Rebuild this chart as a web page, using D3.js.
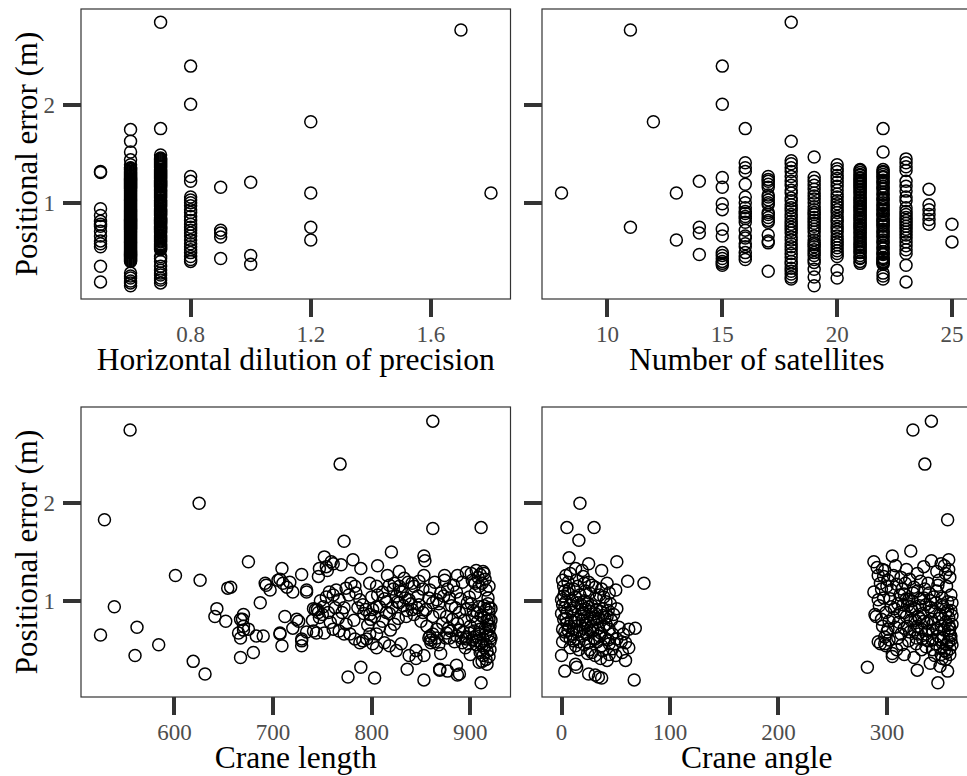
<!DOCTYPE html>
<html>
<head>
<meta charset="utf-8">
<script src="https://cdn.jsdelivr.net/npm/d3@7"></script>
<style>
	body { margin: 0; background: #fff; }
	#chart { position: relative; width: 967px; height: 776px; overflow: hidden; }
	#chart svg { position: absolute; left: 0; top: 0; }
	.tick { position: absolute; background: #333; }
	text { font-family: "Liberation Serif", "Times New Roman", serif; }
</style>
</head>
<body>
<div id="chart"></div>
<script>
// horizontal dilution of precision (discrete levels) vs positional error
var hdopLevels = [0.5, 0.6, 0.7, 0.8, 0.9, 1.0, 1.2, 1.7, 1.8],
	hdopErr = [
		[1.32, 1.31, 0.94, 0.87, 0.81, 0.78, 0.76, 0.71, 0.66, 0.61, 0.58, 0.55, 0.35, 0.19],
		[1.75, 1.63, 1.52, 1.44, 1.39, 1.36, 1.34, 1.32, 1.31, 1.29, 1.27, 1.26, 1.24, 1.22, 1.21, 1.19, 1.17, 1.16, 1.14, 1.12,
		 1.11, 1.09, 1.07, 1.06, 1.04, 1.02, 1.01, 0.99, 0.97, 0.96, 0.94, 0.92, 0.91, 0.89, 0.87, 0.86, 0.84, 0.82, 0.81, 0.79,
		 0.77, 0.76, 0.74, 0.72, 0.71, 0.69, 0.67, 0.66, 0.64, 0.62, 0.61, 0.59, 0.57, 0.56, 0.54, 0.52, 0.51, 0.49, 0.47, 0.45,
		 0.43, 0.42, 0.40, 0.28, 0.25, 0.23, 0.20, 0.18, 0.15,
		 1.355, 1.335, 1.30, 1.28, 1.25, 1.23, 1.20, 1.18, 1.15, 1.13, 1.10, 1.08, 1.05, 1.03, 1.00, 0.98, 0.95, 0.93, 0.90, 0.88,
		 0.85, 0.83, 0.80, 0.78, 0.75, 0.73, 0.70, 0.68, 0.65, 0.63, 0.60, 0.58, 0.55, 0.53, 0.50, 0.48, 0.46, 0.44, 0.41],
		[2.85, 1.76, 1.49, 1.46, 1.44, 1.42, 1.40, 1.38, 1.36, 1.33, 1.31, 1.29, 1.27, 1.25, 1.22, 1.20, 1.18, 1.16, 1.13, 1.11,
		 1.09, 1.07, 1.05, 1.02, 1.00, 0.98, 0.96, 0.93, 0.91, 0.89, 0.87, 0.84, 0.82, 0.80, 0.78, 0.75, 0.73, 0.71, 0.69, 0.66,
		 0.64, 0.62, 0.60, 0.57, 0.55, 0.53, 0.45, 0.40, 0.35, 0.28, 0.23, 0.18,
		 1.45, 1.43, 1.41, 1.39, 1.37, 1.34, 1.32, 1.30, 1.28, 1.26, 1.23, 1.21, 1.19, 1.17, 1.14, 1.12, 1.10, 1.08, 1.06, 1.03,
		 1.01, 0.99, 0.97, 0.94, 0.92, 0.90, 0.88, 0.85, 0.83, 0.81, 0.79, 0.76, 0.74, 0.72, 0.70, 0.67, 0.65, 0.63, 0.61, 0.58,
		 0.56, 0.54, 0.52, 0.43, 0.31, 0.26, 0.21],
		[2.40, 2.01, 1.27, 1.22, 1.06, 1.03, 1.00, 0.97, 0.93, 0.90, 0.86, 0.82, 0.78, 0.75, 0.72, 0.69, 0.66, 0.62, 0.58, 0.55,
		 0.52, 0.49, 0.45, 0.42, 0.40],
		[1.16, 0.72, 0.69, 0.65, 0.43],
		[1.21, 0.46, 0.37],
		[1.83, 1.10, 0.75, 0.62],
		[2.77],
		[1.10]
	];

// number of satellites vs positional error
var satLevels = [8, 11, 12, 13, 14, 15, 16, 17, 18, 19, 20, 21, 22, 23, 24, 25],
	satErr = [
		[1.10],
		[2.77, 0.75],
		[1.83],
		[1.10, 0.62],
		[1.22, 0.75, 0.69, 0.47],
		[2.40, 2.01, 1.26, 1.16, 0.99, 0.93, 0.73, 0.66, 0.49, 0.46, 0.43, 0.40, 0.38, 0.36],
		[1.76, 1.41, 1.36, 1.32, 1.19, 1.06, 1.00, 0.95, 0.91, 0.89, 0.86, 0.84, 0.80, 0.72, 0.66, 0.64, 0.58, 0.55, 0.49, 0.45, 0.42],
		[1.27, 1.24, 1.22, 1.19, 1.16, 1.08, 1.06, 1.03, 1.00, 0.98, 0.90, 0.88, 0.85, 0.82, 0.80, 0.67, 0.61, 0.59, 0.30],
		[2.85, 1.63, 1.43, 1.40, 1.36, 1.32, 1.27, 1.22, 1.18, 1.13, 1.10, 1.05, 1.02, 0.98, 0.95, 0.92, 0.88, 0.85, 0.81, 0.78,
		 0.75, 0.72, 0.69, 0.65, 0.62, 0.58, 0.55, 0.52, 0.48, 0.44, 0.40, 0.37, 0.33, 0.30, 0.27, 0.24, 0.22],
		[1.47, 1.26, 1.22, 1.18, 1.14, 1.10, 1.07, 1.04, 1.00, 0.96, 0.93, 0.90, 0.88, 0.85, 0.82, 0.79, 0.76, 0.73, 0.70, 0.66,
		 0.62, 0.59, 0.57, 0.55, 0.52, 0.49, 0.46, 0.42, 0.39, 0.32, 0.24, 0.15],
		[1.39, 1.35, 1.32, 1.28, 1.25, 1.21, 1.17, 1.13, 1.09, 1.06, 1.02, 0.99, 0.96, 0.93, 0.90, 0.86, 0.83, 0.80, 0.76, 0.73,
		 0.70, 0.66, 0.63, 0.60, 0.57, 0.54, 0.51, 0.48, 0.45, 0.31, 0.23],
		[1.34, 1.31, 1.28, 1.25, 1.22, 1.19, 1.16, 1.13, 1.10, 1.08, 1.05, 1.02, 1.00, 0.97, 0.95, 0.92, 0.90, 0.87, 0.85, 0.82,
		 0.80, 0.77, 0.75, 0.72, 0.70, 0.67, 0.65, 0.62, 0.60, 0.57, 0.55, 0.52, 0.49, 0.46, 0.43, 0.40, 0.38,
		 1.33, 1.29, 1.26, 1.23, 1.20, 1.17, 1.14, 1.11, 1.06, 1.03, 0.99, 0.96, 0.93, 0.88, 0.84, 0.78, 0.74, 0.69, 0.64, 0.58,
		 0.54, 0.50, 0.44],
		[1.76, 1.52, 1.34, 1.31, 1.29, 1.26, 1.23, 1.20, 1.17, 1.14, 1.11, 1.08, 1.05, 1.03, 1.00, 0.97, 0.95, 0.92, 0.89, 0.87,
		 0.84, 0.81, 0.79, 0.76, 0.73, 0.70, 0.68, 0.65, 0.62, 0.59, 0.56, 0.53, 0.50, 0.47, 0.44, 0.42, 0.40, 0.38, 0.28, 0.25, 0.22,
		 1.32, 1.27, 1.21, 1.15, 1.09, 1.04, 0.98, 0.93, 0.88, 0.82, 0.77, 0.71, 0.66, 0.60, 0.54, 0.48, 0.43, 0.39, 0.37],
		[1.45, 1.41, 1.37, 1.33, 1.22, 1.17, 1.12, 1.06, 1.02, 0.95, 0.91, 0.88, 0.85, 0.82, 0.79, 0.76, 0.73, 0.70, 0.67, 0.64,
		 0.60, 0.56, 0.52, 0.48, 0.36, 0.19],
		[1.14, 0.98, 0.93, 0.88, 0.83, 0.78],
		[0.78, 0.60]
	];

// crane length vs positional error
var lengthPts = [
	[525,0.65],[529,1.83],[539,0.94],[555,2.75],[560,0.44],[562,0.73],[584,0.55],[601,1.26],[619,0.38],[625,2.00],[626,1.21],[631,0.25],
	[641,0.84],[643,0.92],[652,0.79],[654,1.13],[657,1.14],[665,0.67],[667,0.62],[667,0.42],[667,0.81],[669,0.81],[670,0.86],[670,0.70],
	[670,0.74],[675,0.71],[675,1.40],[680,0.47],[683,0.64],[687,0.98],[690,0.64],[692,1.18],[693,1.16],[697,1.11],[705,1.21],[707,0.67],
	[707,1.22],[707,0.66],[709,0.54],[709,1.33],[710,1.18],[712,0.84],[714,1.14],[717,1.19],[720,1.09],[720,0.72],[724,0.81],[726,0.79],
	[729,1.27],[729,0.59],[729,0.54],[729,0.61],[734,1.09],[734,0.68],[734,1.11],[740,0.80],[741,0.92],[741,0.69],[743,0.91],[744,0.67],
	[745,0.91],[746,1.25],[746,0.88],[747,0.83],[747,1.33],[751,0.94],[752,1.45],[752,0.67],[754,1.35],[754,1.04],[755,1.31],[757,1.09],
	[759,1.40],[761,1.38],[761,1.06],[761,0.71],[764,1.11],[767,1.01],[767,0.69],[768,2.40],[769,1.37],[772,1.61],[772,0.93],[772,0.66],
	[774,1.13],[776,0.22],[778,0.66],[779,1.18],[781,1.42],[783,1.15],[783,0.61],[784,1.08],[788,1.01],[789,1.33],[788,0.57],[789,0.32],
	[791,0.96],[791,0.59],[794,0.91],[795,0.61],[798,0.86],[798,0.66],[799,0.81],[801,0.56],[803,0.84],[803,0.21],[805,0.94],[805,0.52],
	[806,1.36],[806,1.06],[820,1.50],[828,1.30],[836,0.30],[845,0.41],[853,0.19],[853,1.46],[862,2.84],[862,1.74],[869,0.30],[877,0.28],
	[887,0.24],[911,1.75],[911,0.16],
	[816,1.26],[798,1.18],[805,1.15],[811,1.09],[818,1.16],[823,1.18],[828,1.15],[831,1.09],[838,1.01],[841,1.18],[848,1.20],[853,1.26],
	[859,1.11],[862,0.98],[870,1.08],[874,1.26],[874,1.21],[879,1.03],[887,1.26],[892,1.19],[896,1.29],[901,1.28],[902,1.21],[906,1.31],
	[909,1.15],[914,1.28],[916,1.11],[899,1.04],[886,1.09],[866,1.01],[854,1.41],
	[801,0.91],[808,0.94],[815,0.88],[821,0.93],[828,0.98],[835,0.84],[841,0.91],[848,0.96],[855,0.91],[862,0.84],[869,0.88],[876,0.84],
	[882,0.81],[889,0.88],[896,0.91],[902,0.84],[909,0.94],[916,0.91],[919,0.81],[919,0.93],
	[805,0.66],[813,0.57],[818,0.54],[825,0.49],[830,0.56],[838,0.44],[845,0.49],[853,0.44],[859,0.64],[860,0.57],[866,0.62],[870,0.46],
	[876,0.67],[879,0.62],[886,0.64],[892,0.57],[896,0.61],[899,0.67],[906,0.64],[911,0.57],[914,0.52],[916,0.40],[917,0.35],[909,0.37],
	[869,0.29],[886,0.34],[889,0.25],[919,0.71],
	[822,1.12],[825,1.05],[826,0.99],[829,1.10],[832,0.95],[834,1.03],[836,0.90],[840,0.97],[843,0.86],[846,0.93],[850,0.79],[852,0.88],
	[856,0.74],[858,0.62],[860,0.60],[862,0.66],[864,0.58],[866,0.71],[868,0.55],[872,0.77],[875,0.62],[878,0.72],[881,0.95],[884,0.58],
	[887,0.77],[890,1.02],[893,0.68],[895,0.52],[897,0.98],[900,0.74],[902,0.60],[903,0.90],[905,1.08],[906,0.55],[907,0.78],[908,1.24],
	[909,0.66],[910,0.47],[911,0.85],[912,1.18],[912,0.38],[913,0.61],[914,0.95],[915,0.72],[916,0.55],[917,0.80],[918,0.65],[919,0.43],
	[919,0.88],[920,0.74],[920,0.58],[921,0.92],[918,1.03],[913,1.30],[910,1.27],[904,0.69],[896,0.63],[889,0.70],[883,1.16],[877,1.12],
	[873,1.05],[868,0.97],[864,1.19],[858,1.03],[852,1.12],[847,1.05],[843,1.15],[837,1.19],[833,1.23],[827,0.82],[823,0.76],[819,0.70],
	[815,0.99],[811,0.79],[808,0.73],[813,1.02],[818,0.87],[800,1.04],[796,0.75],[792,0.87],[786,0.93],[782,0.80],[777,1.06],[774,0.76],
	[770,0.88],[766,0.82],[763,0.93],[758,0.78],[756,0.88],[750,0.86],[748,1.00],
	[880,0.69],[885,0.93],[891,0.62],[894,0.80],[898,0.56],[901,0.97],[904,0.63],[907,0.88],[910,0.71],[912,0.54],[914,0.83],[916,0.67],
	[918,0.97],[920,0.64],[921,0.80],[917,0.48],[913,0.44],[906,0.59],[900,0.45],[915,1.22],[919,1.15],[905,1.18],[920,0.50],[921,0.62],
	[918,0.75]
];

// crane angle vs positional error
var anglePts = [
	[324,2.75],[341,2.84],[335,2.40],[356,1.83],[17,2.00],[5,1.75],[30,1.75],[16,1.62],[7,1.44],[322,1.51],[305,1.46],[357,1.42],
	[76,1.18],[61,1.20],[51,1.40],[282,0.32],[328,0.29],[347,0.16],[356,0.28],[67,0.19],[3,0.28],[0,0.44],[68,0.72],[62,0.71],[59,0.39],
	[25,1.38],[19,1.31],[37,1.31],[1,1.21],[4,1.26],[8,1.28],[14,1.21],[21,1.18],[25,1.19],[31,1.14],[37,1.12],[42,1.18],[50,1.11],
	[0,1.01],[4,0.99],[8,0.96],[13,1.04],[19,0.91],[25,0.94],[31,0.87],[36,0.89],[41,0.99],[42,0.84],[51,0.92],[0,0.87],[2,0.81],
	[7,0.74],[11,0.71],[16,0.81],[22,0.77],[28,0.74],[34,0.82],[39,0.74],[44,0.71],[1,0.71],[4,0.64],[8,0.61],[13,0.54],[19,0.64],
	[25,0.57],[31,0.61],[37,0.54],[44,0.56],[51,0.61],[59,0.57],[62,0.52],[13,0.35],[14,0.32],[24,0.46],[25,0.25],[31,0.24],[34,0.22],
	[37,0.21],[42,0.39],[50,0.44],[31,0.44],[36,0.41],[47,0.51],[56,0.47],
	[2,1.15],[6,1.08],[9,0.90],[11,1.12],[12,0.78],[14,0.68],[15,0.98],[17,1.06],[18,0.86],[20,0.72],[21,1.00],[22,0.92],[23,0.66],
	[24,0.84],[26,1.08],[27,0.79],[28,0.95],[29,0.70],[32,1.02],[33,0.78],[35,0.64],[38,0.92],[40,0.83],[43,0.60],[45,0.97],[3,0.93],
	[5,0.77],[10,0.66],[1,0.58],[8,0.52],[6,1.19],[16,0.58],[26,0.50],[33,0.58],[39,1.04],[46,0.80],[20,1.25],[13,1.33],[3,0.68],
	[2,1.05],[5,0.88],[7,1.12],[9,0.80],[10,1.00],[12,0.94],[14,0.74],[15,1.15],[17,0.69],[18,0.96],[19,0.80],[21,0.87],[22,1.10],
	[23,0.75],[24,0.98],[26,0.70],[27,0.89],[28,1.16],[30,0.82],[30,0.62],[32,0.91],[34,0.72],[35,1.06],[36,0.67],[38,0.85],[40,0.62],
	[41,0.76],[43,0.90],[44,1.08],[47,0.66],[48,0.86],[49,0.56],[53,0.73],[55,0.58],[57,0.66],[1,0.96],[3,1.10],[4,0.82],[6,0.70],
	[11,0.59],[16,0.50],[21,0.55],[28,0.47],[38,0.49],[44,0.45],
	[288,1.40],[291,1.34],[298,1.31],[341,1.41],[350,1.38],[354,1.28],[301,1.21],[313,1.24],[328,1.28],[338,1.18],[348,1.21],[288,1.09],
	[292,1.01],[304,1.11],[316,1.07],[325,1.14],[334,1.03],[343,1.04],[352,0.94],[357,0.83],[289,0.86],[295,0.81],[306,0.83],[316,0.88],
	[322,0.94],[329,0.84],[341,0.81],[350,0.74],[357,0.69],[298,0.63],[292,0.58],[298,0.56],[305,0.46],[313,0.66],[320,0.59],[327,0.56],
	[338,0.59],[345,0.56],[353,0.49],[344,0.44],[351,0.41],[358,0.51],[310,0.97],[328,0.74],[339,0.94],[319,0.74],[301,0.71],[296,1.32],
	[290,0.84],[294,0.56],[299,0.54],[305,0.43],
	[300,1.15],[303,1.02],[307,0.92],[309,1.17],[311,0.78],[312,1.06],[314,0.55],[315,0.96],[317,1.18],[318,0.84],[320,1.01],[321,0.68],
	[323,0.90],[324,1.08],[326,0.80],[327,0.62],[330,0.95],[331,1.20],[332,0.71],[333,0.87],[335,1.12],[336,0.66],[337,0.77],[340,1.00],
	[342,0.70],[344,0.89],[346,1.10],[347,0.64],[348,0.82],[349,0.52],[351,1.03],[352,0.62],[354,0.78],[355,1.15],[356,0.90],[357,0.58],
	[358,0.72],[359,1.06],[359,0.64],[360,0.85],[358,0.45],[360,0.98],[359,0.60],[360,0.76],[358,1.24],[357,1.32],[353,1.36],[346,1.30],
	[334,1.35],[318,1.32],[308,1.36],[297,1.25],[294,1.18],[293,0.95],[296,0.74],[302,0.60],[309,0.50],[316,0.45],[325,0.42],[332,0.50],
	[340,0.36],[349,0.33],[354,0.40],
	[292,1.26],[295,1.12],[297,1.03],[299,0.88],[300,0.68],[302,0.79],[304,0.94],[306,1.26],[308,0.73],[310,0.62],[312,0.88],[314,1.12],
	[316,0.72],[318,1.02],[319,0.95],[321,1.22],[322,0.80],[323,1.00],[325,0.70],[326,0.92],[328,1.10],[329,0.66],[330,0.82],[331,1.02],
	[333,0.61],[334,0.79],[336,0.96],[338,0.69],[339,1.08],[341,0.90],[342,0.60],[343,0.77],[345,0.98],[346,0.72],[347,1.16],[349,0.86],
	[350,0.60],[351,0.96],[353,0.70],[354,0.87],[355,0.55],[356,0.99],[357,0.75],[358,0.65],[359,0.90],[360,0.55],[355,0.47],[350,0.45],
	[342,0.50],[336,0.53]
];

// tick labels
var hdopTicks = [0.8, 1.2, 1.6],
	satTicks = [10, 15, 20, 25],
	lengthTicks = [600, 700, 800, 900],
	angleTicks = [0, 100, 200, 300],
	errTicks = [1, 2];

// layout params
var W = 967,
	H = 776,
	panelW = 429.5,
	panelH = 290,
	tickLen = 18,
	tickW = 4,
	r = 6;

var toPoints = function(levels, errs) {
	var pts = [];
	levels.forEach(function(lv, i) {
		errs[i].forEach(function(e) { pts.push([lv, e]); });
	});
	return pts;
};

// ggplot-like 5% expansion
var expand = function(ext) {
	var pad = (ext[1] - ext[0]) * 0.05;
	return [ext[0] - pad, ext[1] + pad];
};

var panels = [
	{pts: toPoints(hdopLevels, hdopErr), ticks: hdopTicks, fmt: d3.format(".1f"), title: "Horizontal dilution of precision", left: 81, top: 9, yLabels: true},
	{pts: toPoints(satLevels, satErr), ticks: satTicks, fmt: d3.format("d"), title: "Number of satellites", left: 542, top: 9, yLabels: false},
	{pts: lengthPts, ticks: lengthTicks, fmt: d3.format("d"), title: "Crane length", left: 81, top: 407, yLabels: true},
	{pts: anglePts, ticks: angleTicks, fmt: d3.format("d"), title: "Crane angle", left: 542, top: 407, yLabels: false}
];

var allErr = [];
panels.forEach(function(p) { p.pts.forEach(function(d) { allErr.push(d[1]); }); });

var y = d3.scaleLinear()
	.domain(expand(d3.extent(allErr)))
	.range([panelH, 0]);

var chart = d3.select("#chart");

var svg = chart.append("svg")
	.attr("width", W)
	.attr("height", H);

svg.append("rect").attr("width", W).attr("height", H).attr("fill", "#fff");

panels.forEach(function(p, i) {
	var x = d3.scaleLinear()
		.domain(expand(d3.extent(p.pts, function(d) { return d[0]; })))
		.range([p.left, p.left + panelW]);
	var yp = function(v) { return p.top + y(v); };
	var bottom = p.top + panelH;

	svg.selectAll("circle.p" + i)
		.data(p.pts)
		.enter()
		.append("circle")
		.attr("class", "p" + i)
		.attr("cx", function(d) { return x(d[0]); })
		.attr("cy", function(d) { return yp(d[1]); })
		.attr("r", r)
		.attr("fill", "none")
		.attr("stroke", "#000")
		.attr("stroke-width", 1.5);

	svg.append("rect")
		.attr("x", p.left)
		.attr("y", p.top)
		.attr("width", panelW)
		.attr("height", panelH)
		.attr("fill", "none")
		.attr("stroke", "#333")
		.attr("stroke-width", 1.2);

	// tick marks as plain html blocks over the svg
	chart.selectAll("div.xt" + i)
		.data(p.ticks)
		.enter()
		.append("div")
		.attr("class", "tick xt" + i)
		.style("left", function(d) { return (x(d) - tickW / 2) + "px"; })
		.style("top", bottom + "px")
		.style("width", tickW + "px")
		.style("height", tickLen + "px");

	chart.selectAll("div.yt" + i)
		.data(errTicks)
		.enter()
		.append("div")
		.attr("class", "tick yt" + i)
		.style("left", (p.left - tickLen) + "px")
		.style("top", function(d) { return (yp(d) - tickW / 2) + "px"; })
		.style("width", tickLen + "px")
		.style("height", tickW + "px");

	// tick labels
	svg.selectAll("text.xl" + i)
		.data(p.ticks)
		.enter()
		.append("text")
		.attr("class", "xl" + i)
		.attr("x", function(d) { return x(d); })
		.attr("y", bottom + 43)
		.attr("text-anchor", "middle")
		.attr("fill", "#4d4d4d")
		.style("font-size", "23px")
		.text(p.fmt);

	if (p.yLabels) {
		svg.selectAll("text.yl" + i)
			.data(errTicks)
			.enter()
			.append("text")
			.attr("class", "yl" + i)
			.attr("x", p.left - tickLen - 8)
			.attr("y", function(d) { return yp(d); })
			.attr("dy", "0.34em")
			.attr("text-anchor", "end")
			.attr("fill", "#4d4d4d")
			.style("font-size", "23px")
			.text(d3.format("d"));

		svg.append("text")
			.attr("transform", "translate(37," + (p.top + panelH / 2) + ") rotate(-90)")
			.attr("text-anchor", "middle")
			.attr("fill", "#000")
			.style("font-size", "31px")
			.text("Positional error (m)");
	}

	svg.append("text")
		.attr("x", p.left + panelW / 2)
		.attr("y", bottom + 71)
		.attr("text-anchor", "middle")
		.attr("fill", "#000")
		.style("font-size", "31.5px")
		.text(p.title);
});
</script>
</body>
</html>
